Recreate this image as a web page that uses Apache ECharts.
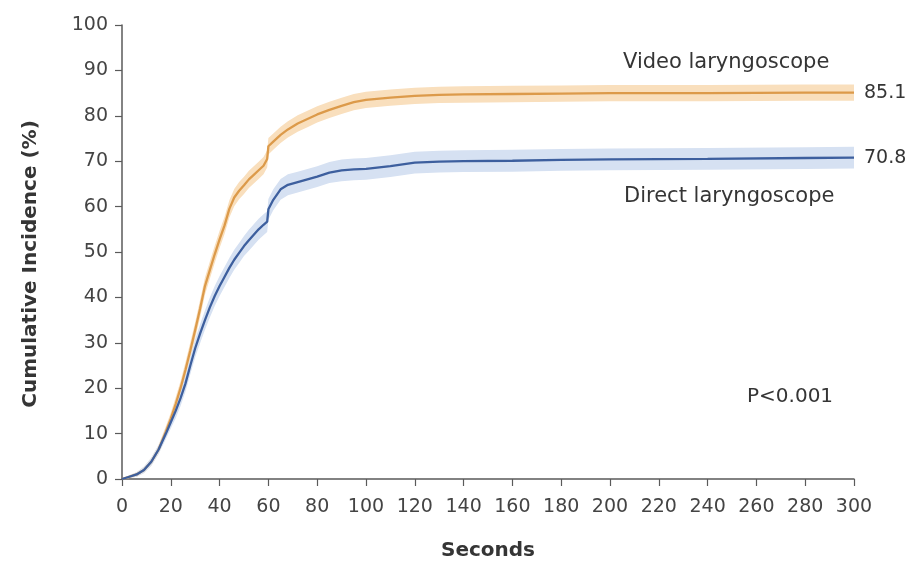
<!DOCTYPE html>
<html>
<head>
<meta charset="utf-8">
<script src="https://cdn.jsdelivr.net/npm/echarts@6/dist/echarts.min.js"></script>
<style>html,body{margin:0;padding:0;background:#fff}#c{width:917px;height:566px}</style>
</head>
<body>
<div id="c"></div>
<script>
// Time points (seconds)
var seconds = [0,3,6,9,12,15,18,20,22,24,26,28,30,32,34,36,38,40,42,44,46,48,50,52,54,56,58,59.5,60,62,65,68,72,76,80,85,90,95,100,110,120,130,140,160,180,200,240,280,300];
// Video laryngoscope cumulative incidence (%)
var videoValues = [0,0.5,1,2,3.8,6.5,10.5,13.3,16.5,20,24,28.3,32.8,37.5,42.5,46,49.5,52.8,55.8,59.5,62,63.5,64.7,66,67,68,69,70.5,73.3,74.3,75.8,77,78.3,79.3,80.3,81.3,82.2,83,83.5,84,84.4,84.6,84.7,84.8,84.9,85,85,85.1,85.1];
// Direct laryngoscope cumulative incidence (%)
var directValues = [0,0.5,1,2,3.8,6.5,10,12.5,15,17.8,21,25,28.8,32,35,37.8,40.3,42.5,44.5,46.5,48.3,49.8,51.3,52.6,53.8,55,56,56.7,59.4,61.5,63.8,64.8,65.4,66,66.6,67.5,68,68.2,68.3,68.9,69.7,69.9,70,70.1,70.3,70.4,70.5,70.7,70.8];
// 95% band half-widths (%)
var videoBand = [0,0.3,0.5,0.7,0.9,1,1.2,1.3,1.5,1.6,1.7,1.8,1.8,1.9,1.9,1.9,1.9,1.9,1.9,1.9,1.9,1.9,1.9,1.9,1.9,1.9,1.9,1.9,1.8,1.8,1.8,1.8,1.8,1.8,1.8,1.8,1.8,1.8,1.8,1.8,1.8,1.8,1.8,1.8,1.8,1.8,1.8,1.8,1.8];
var directBand = [0,0.3,0.5,0.7,0.9,1,1.2,1.4,1.6,1.7,1.8,1.9,2,2.1,2.1,2.2,2.2,2.2,2.2,2.2,2.2,2.2,2.2,2.3,2.3,2.3,2.3,2.3,2.3,2.3,2.3,2.3,2.3,2.3,2.3,2.3,2.4,2.4,2.4,2.4,2.4,2.4,2.4,2.4,2.4,2.4,2.4,2.4,2.4];
var xTicks = {min:0, max:300, interval:20};
var yTicks = {min:0, max:100, interval:10};

function pairs(vals){ return seconds.map(function(t,i){return [t, vals[i]];}); }
function bandRows(vals, hw){ return seconds.map(function(t,i){return [t, vals[i]-hw[i], vals[i]+hw[i]];}); }

function bandSeries(rows, color){
  return {
    type:'custom', silent:true, z:1,
    data:[0],
    renderItem:function(params, api){
      var up = [], lo = [];
      for (var i=0;i<rows.length;i++){
        up.push(api.coord([rows[i][0], rows[i][2]]));
        lo.push(api.coord([rows[i][0], rows[i][1]]));
      }
      return {type:'polygon', shape:{points:up.concat(lo.reverse())}, style:{fill:color}};
    }
  };
}

var FONT = '"DejaVu Sans", sans-serif';
var TXT = '#353535';
var chart = echarts.init(document.getElementById('c'));
var axisColor = '#5a5a5a';
chart.setOption({
  animation:false,
  grid:{left:122, right:63, top:25, bottom:85},
  xAxis:{type:'value', min:xTicks.min, max:xTicks.max, interval:xTicks.interval,
    name:'Seconds', nameLocation:'middle', nameGap:62,
    nameTextStyle:{fontFamily:FONT, fontSize:20, fontWeight:'bold', color:TXT},
    axisLine:{lineStyle:{color:axisColor, width:1.5}},
    axisTick:{length:7, lineStyle:{color:axisColor, width:1.2}},
    axisLabel:{fontFamily:FONT, fontSize:19, color:'#444', margin:19},
    splitLine:{show:false}},
  yAxis:{type:'value', min:yTicks.min, max:yTicks.max, interval:yTicks.interval,
    name:'Cumulative Incidence (%)', nameLocation:'middle', nameGap:81, nameRotate:90,
    nameTextStyle:{fontFamily:FONT, fontSize:20, fontWeight:'bold', color:TXT, padding:[0,24,0,0]},
    axisLine:{show:true, lineStyle:{color:axisColor, width:1.5}},
    axisTick:{show:true, length:7, lineStyle:{color:axisColor, width:1.2}},
    axisLabel:{fontFamily:FONT, fontSize:19, color:'#444', margin:14},
    splitLine:{show:false}},
  series:[
    bandSeries(bandRows(videoValues, videoBand), '#f9dfbd'),
    bandSeries(bandRows(directValues, directBand), '#d6e1f2'),
    {name:'Video laryngoscope', type:'line', z:3, data:pairs(videoValues), symbol:'none',
      lineStyle:{color:'#dc9a4a', width:2.3},
      endLabel:{show:true, formatter:function(p){return p.value[1].toFixed(1);}, fontFamily:FONT, fontSize:19, color:TXT, distance:10}},
    {name:'Direct laryngoscope', type:'line', z:3, data:pairs(directValues), symbol:'none',
      lineStyle:{color:'#3d5f9e', width:2.3},
      endLabel:{show:true, formatter:function(p){return p.value[1].toFixed(1);}, fontFamily:FONT, fontSize:19, color:TXT, distance:10}}
  ],
  graphic:[
    {type:'text', left:623, top:52, z:10, style:{text:'Video laryngoscope', fontFamily:FONT, fontSize:21, fill:TXT}},
    {type:'text', left:624, top:186, z:10, style:{text:'Direct laryngoscope', fontFamily:FONT, fontSize:21, fill:TXT}},
    {type:'text', left:747, top:387, z:10, style:{text:'P<0.001', fontFamily:FONT, fontSize:20, fill:TXT}}
  ]
});
</script>
</body>
</html>
